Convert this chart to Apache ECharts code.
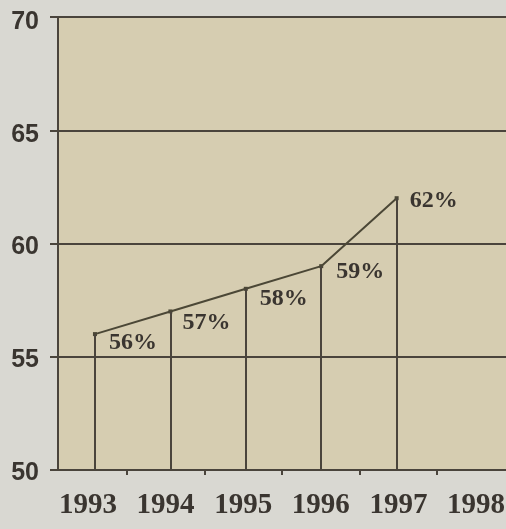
<!DOCTYPE html>
<html>
<head>
<meta charset="utf-8">
<script src="https://cdn.jsdelivr.net/npm/echarts@6/dist/echarts.min.js"></script>
<style>
  html, body { margin: 0; padding: 0; background: #d9d8d2; }
  #chart { width: 506px; height: 529px; }
</style>
</head>
<body>
<div id="chart"></div>
<script>
// ---- data ----
const years = [1993, 1994, 1995, 1996, 1997];
const shares = [56, 57, 58, 59, 62];
const yearLabels = ['1993', '1994', '1995', '1996', '1997', '1998'];
const yTicks = [50, 55, 60, 65, 70];

// ---- styling ----
const ink = '#4a443c';
const labelNudge = [[7, 9], [5, 11], [7, 10], [8, 6], [6, 3]];

const chart = echarts.init(document.getElementById('chart'));

const lineData = years.map((y, i) => ({
  value: [y, shares[i]],
  label: { offset: labelNudge[i] }
}));

const dropLines = years.map((y, i) => [
  { coord: [y, shares[i]] },
  { coord: [y, yTicks[0]] }
]);

const yMin = yTicks[0], yMax = yTicks[yTicks.length - 1];
const labelYears = yearLabels.map(Number);
const midTicks = labelYears.slice(0, -1).map(v => v + 0.5);

chart.setOption({
  backgroundColor: '#d9d8d2',
  animation: false,
  grid: [
    { left: 58, right: 0, top: 17, bottom: 59, show: true, backgroundColor: '#d6cdb1', borderWidth: 0,
      containLabel: false, outerBoundsMode: 'none' },
    { left: 58, right: 0, top: 22, bottom: 56, show: false, containLabel: false, outerBoundsMode: 'none' }
  ],
  xAxis: [
    {
      type: 'value', gridIndex: 0, min: 1992.51, max: 1998.45,
      axisLine: { show: true, onZero: false, lineStyle: { color: ink, width: 2 } },
      axisTick: { show: false }, axisLabel: { show: false }, splitLine: { show: false }
    },
    {
      type: 'value', gridIndex: 0, position: 'bottom', min: 1992.6134, max: 1998.3866,
      axisLine: { show: false },
      axisTick: { show: true, length: 5, customValues: midTicks, lineStyle: { color: ink, width: 2 } },
      axisLabel: {
        customValues: labelYears, margin: 21, color: '#3a3530',
        showMinLabel: true, showMaxLabel: true,
        formatter: v => String(v),
        fontFamily: 'Liberation Serif', fontWeight: 'bold', fontSize: 29
      },
      splitLine: { show: false }
    },
    { type: 'value', gridIndex: 1, show: false }
  ],
  yAxis: [
    {
      type: 'value', gridIndex: 0, min: yMin, max: yMax, interval: 5,
      axisLine: { show: true, lineStyle: { color: ink, width: 2 } },
      axisTick: { show: true, length: 8, lineStyle: { color: ink, width: 2 } },
      axisLabel: { show: false },
      splitLine: { show: true, lineStyle: { color: ink, width: 2 } }
    },
    {
      type: 'value', gridIndex: 1, min: yMin, max: yMax, interval: 5,
      axisLine: { show: false }, axisTick: { show: false }, splitLine: { show: false },
      axisLabel: {
        margin: 19, color: '#3a3530', showMinLabel: true, showMaxLabel: true,
        fontFamily: 'Liberation Sans', fontWeight: 'bold', fontSize: 25
      }
    }
  ],
  series: [
    {
      type: 'line',
      xAxisIndex: 0, yAxisIndex: 0,
      data: lineData,
      lineStyle: { color: '#4b4736', width: 2 },
      itemStyle: { color: '#4b4736' },
      symbol: 'rect', symbolSize: 4,
      label: {
        show: true, position: 'right', distance: 5,
        formatter: p => p.value[1] + '%',
        color: '#3a3530', fontFamily: 'Liberation Serif', fontWeight: 'bold', fontSize: 24
      },
      markLine: {
        silent: true, symbol: 'none',
        label: { show: false },
        lineStyle: { color: ink, width: 2, type: 'solid' },
        data: dropLines
      },
      z: 3
    }
  ]
});
</script>
</body>
</html>
